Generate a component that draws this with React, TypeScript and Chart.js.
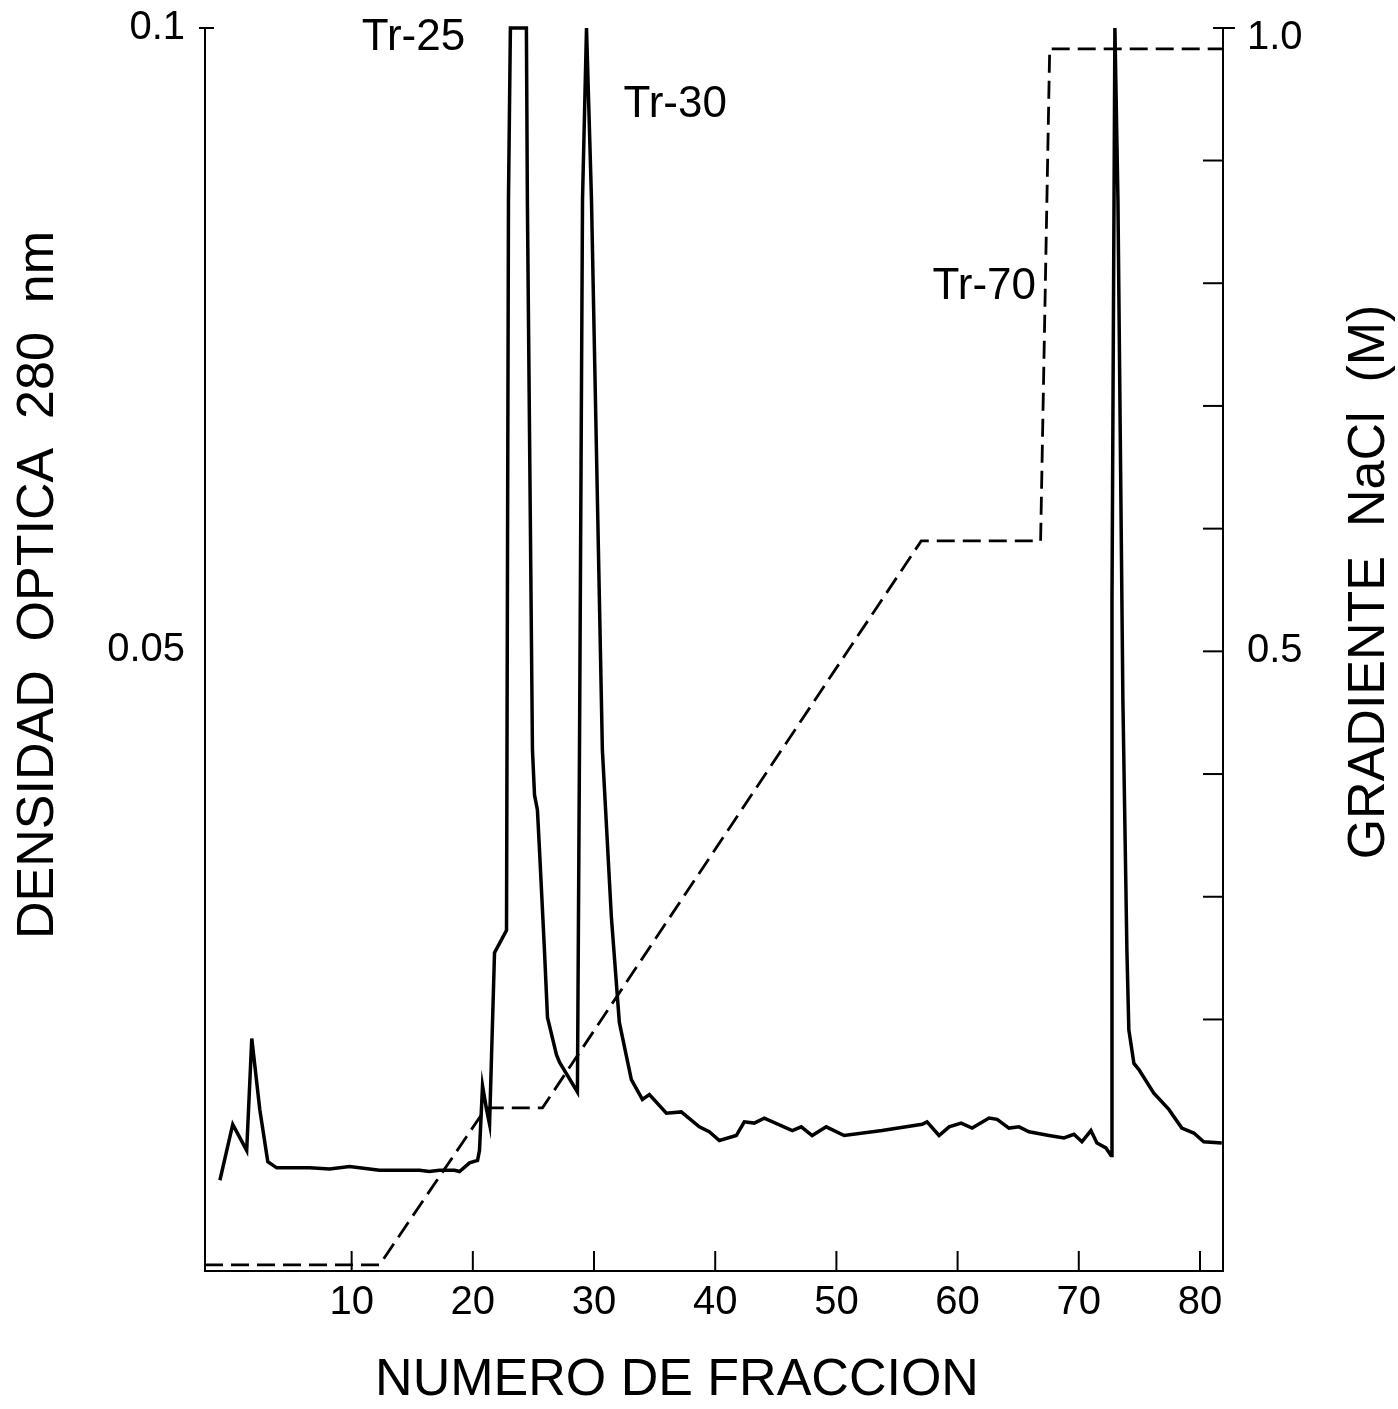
import React, { useEffect, useRef } from "react";
import { Chart, registerables } from "chart.js";
Chart.register(...registerables);

// Optical density 280 nm (solid trace)
const odX = [
  -0.87, 0.19, 1.34, 1.76, 2.42, 3.08, 3.82, 4.89, 6.53, 8.18, 9.83, 11.48, 12.3, 13.96, 15.6, 16.4,
  17.26, 18.5, 18.9, 19.73, 20.39, 20.55, 20.8, 21.13, 21.38, 21.79, 22.78, 22.94, 23.1, 24.42,
  24.5, 24.92, 25.09, 25.33, 25.5, 25.91, 26.16, 26.9, 27.15, 28.63, 28.8, 29.05, 29.38, 29.79,
  30.69, 31.43, 32.09, 33.08, 33.99, 34.57, 35.97, 37.2, 38.69, 39.51, 40.34, 41.74, 42.4, 43.22,
  44.05, 46.36, 47.1, 48.0, 49.16, 50.64, 53.77, 57.07, 57.48, 58.47, 59.3, 60.29, 61.2, 62.6,
  63.26, 64.24, 65.07, 65.89, 67.54, 68.78, 69.6, 70.26, 71.0, 71.5, 72.24, 72.66, 72.74, 72.98,
  73.23, 73.64, 73.97, 74.13, 74.55, 74.96, 76.19, 77.43, 78.5, 79.49, 80.31, 81.8,
];
const odY = [
  0.0073, 0.0118, 0.0097, 0.0187, 0.0130, 0.0088, 0.0083, 0.0083, 0.0083, 0.0082, 0.0084, 0.0082,
  0.0081, 0.0081, 0.0081, 0.0080, 0.0081, 0.0081, 0.0080, 0.0087, 0.0089, 0.0097, 0.0149, 0.0130,
  0.0118, 0.0256, 0.0274, 0.0862, 0.1, 0.1, 0.0862, 0.0419, 0.0383, 0.0371, 0.0339, 0.0258, 0.0204,
  0.0174, 0.0168, 0.0144, 0.0419, 0.0862, 0.1, 0.0862, 0.0419, 0.0285, 0.0200, 0.0154, 0.0138,
  0.0142, 0.0127, 0.0128, 0.0116, 0.0112, 0.0105, 0.0109, 0.0120, 0.0119, 0.0123, 0.0113, 0.0116,
  0.0109, 0.0116, 0.0109, 0.0113, 0.0118, 0.0120, 0.0109, 0.0116, 0.0119, 0.0115, 0.0123, 0.0122,
  0.0115, 0.0116, 0.0112, 0.0109, 0.0107, 0.0110, 0.0104, 0.0113, 0.0103, 0.0099, 0.0093, 0.054,
  0.1, 0.0862, 0.0459, 0.0258, 0.0194, 0.0167, 0.0162, 0.0143, 0.0130, 0.0115, 0.0111, 0.0104, 0.0103,
];

// NaCl gradient (dashed trace)
const naclX = [-2.1, 12.3, 21.1, 25.75, 57.0, 66.85, 67.6, 81.9];
const naclY = [0.0, 0.0, 0.128, 0.128, 0.59, 0.59, 0.991, 0.991];

const xTicks = [10, 20, 30, 40, 50, 60, 70, 80];
const leftTicks = [0.05, 0.1];
const leftTickLabels = ["0.05", "0.1"];
const rightTicks = [0.2, 0.3, 0.4, 0.5, 0.6, 0.7, 0.8, 0.9, 1.0];
const rightLabeled = [0.5, 1.0];
const rightTickLabels = ["0.5", "1.0"];

const peakLabels = ["Tr-25", "Tr-30", "Tr-70"];
const peakLabelX = [15.1, 36.7, 62.2];
const peakLabelY = [0.0992, 0.0938, 0.0792];

const xTitle = "NUMERO DE FRACCION";
const yTitle = "DENSIDAD  OPTICA  280  nm";
const y2Title = "GRADIENTE  NaCl  (M)";

const FONT = '"Liberation Sans", Arial, sans-serif';

export default function App() {
  const ref = useRef<HTMLCanvasElement | null>(null);

  useEffect(() => {
    if (!ref.current) return;
    const decor = {
      id: "decor",
      afterDraw(chart: any) {
        const ctx = chart.ctx;
        const a = chart.chartArea;
        const xs = chart.scales.x;
        const ys = chart.scales.y;
        const y2 = chart.scales.y2;
        ctx.save();
        ctx.strokeStyle = "#000";
        ctx.lineWidth = 2;
        // inward x ticks
        xTicks.forEach((v) => {
          const px = xs.getPixelForValue(v);
          ctx.beginPath();
          ctx.moveTo(px, a.bottom);
          ctx.lineTo(px, a.bottom - 20);
          ctx.stroke();
        });
        // inward right ticks
        rightTicks.forEach((v) => {
          if (v === 1.0) return;
          const py = y2.getPixelForValue(v);
          ctx.beginPath();
          ctx.moveTo(a.right, py);
          ctx.lineTo(a.right - 20, py);
          ctx.stroke();
        });
        // T bars at top of both axes
        ctx.beginPath();
        ctx.moveTo(a.left - 6, a.top);
        ctx.lineTo(a.left + 9, a.top);
        ctx.moveTo(a.right - 10, a.top);
        ctx.lineTo(a.right + 12, a.top);
        ctx.stroke();

        ctx.fillStyle = "#000";
        // peak labels
        ctx.font = `44px ${FONT}`;
        ctx.textAlign = "center";
        ctx.textBaseline = "middle";
        peakLabels.forEach((t, i) => {
          ctx.fillText(t, xs.getPixelForValue(peakLabelX[i]), ys.getPixelForValue(peakLabelY[i]));
        });
        // axis titles
        ctx.font = `52px ${FONT}`;
        ctx.fillText(xTitle, 677, 1381);
        ctx.save();
        ctx.translate(39, 585);
        ctx.rotate(-Math.PI / 2);
        ctx.fillText(yTitle, 0, 0);
        ctx.restore();
        ctx.save();
        ctx.translate(1370, 582);
        ctx.rotate(-Math.PI / 2);
        ctx.fillText(y2Title, 0, 0);
        ctx.restore();
        ctx.restore();
      },
    };

    const zeroV = (s: any) => {
      s.paddingTop = 0;
      s.paddingBottom = 0;
    };

    const chart = new Chart(ref.current, {
      type: "line",
      data: {
        datasets: [
          {
            label: "Densidad óptica 280 nm",
            data: odX.map((x, i) => ({ x, y: odY[i] })),
            yAxisID: "y",
            borderColor: "#000",
            borderWidth: 3.5,
            pointRadius: 0,
            tension: 0,
            fill: false,
            clip: false as any,
          },
          {
            label: "Gradiente NaCl (M)",
            data: naclX.map((x, i) => ({ x, y: naclY[i] })),
            yAxisID: "y2",
            borderColor: "#000",
            borderWidth: 2.8,
            borderDash: [18, 8],
            pointRadius: 0,
            tension: 0,
            fill: false,
            clip: false as any,
          },
        ],
      },
      options: {
        responsive: false,
        animation: false,
        layout: { padding: { top: 28, left: 0, right: 0, bottom: 0 } },
        plugins: { legend: { display: false }, tooltip: { enabled: false } },
        scales: {
          x: {
            type: "linear",
            position: "bottom",
            min: -2.1,
            max: 81.9,
            grid: { display: false },
            border: { display: true, color: "#000", width: 2 },
            ticks: {
              color: "#000",
              font: { family: FONT, size: 40 },
              padding: 0,
              maxRotation: 0,
              autoSkip: false,
              callback: (v: any) => String(v),
            },
            afterBuildTicks: (s: any) => {
              s.ticks = xTicks.map((v) => ({ value: v }));
            },
            afterFit: (s: any) => {
              s.height = 138;
              s.paddingLeft = 0;
              s.paddingRight = 0;
            },
          },
          y: {
            type: "linear",
            position: "left",
            min: 0,
            max: 0.1,
            grid: { display: false },
            border: { display: true, color: "#000", width: 2 },
            ticks: {
              color: "#000",
              font: { family: FONT, size: 40 },
              padding: 12,
              autoSkip: false,
              callback: (v: any) => {
                const i = leftTicks.findIndex((t) => Math.abs(t - v) < 1e-9);
                return i >= 0 ? leftTickLabels[i] : "";
              },
            },
            afterBuildTicks: (s: any) => {
              s.ticks = leftTicks.map((v) => ({ value: v }));
            },
            afterFit: (s: any) => {
              s.width = 205;
              zeroV(s);
            },
          },
          y2: {
            type: "linear",
            position: "right",
            min: -0.005,
            max: 1.008,
            grid: { display: false },
            border: { display: true, color: "#000", width: 2 },
            ticks: {
              color: "#000",
              font: { family: FONT, size: 40 },
              padding: 16,
              autoSkip: false,
              callback: (v: any) => {
                const i = rightLabeled.findIndex((t) => Math.abs(t - v) < 1e-9);
                return i >= 0 ? rightTickLabels[i] : "";
              },
            },
            afterBuildTicks: (s: any) => {
              s.ticks = rightLabeled.map((v) => ({ value: v }));
            },
            afterFit: (s: any) => {
              s.width = 175;
              zeroV(s);
            },
          },
        },
      },
      plugins: [decor],
    } as any);
    return () => chart.destroy();
  }, []);

  return (
    <div style={{ position: "absolute", left: 0, top: 0, width: 1398, height: 1409, background: "#fff" }}>
      <canvas ref={ref} width={1398} height={1409} style={{ width: 1398, height: 1409, display: "block" }} />
    </div>
  );
}
